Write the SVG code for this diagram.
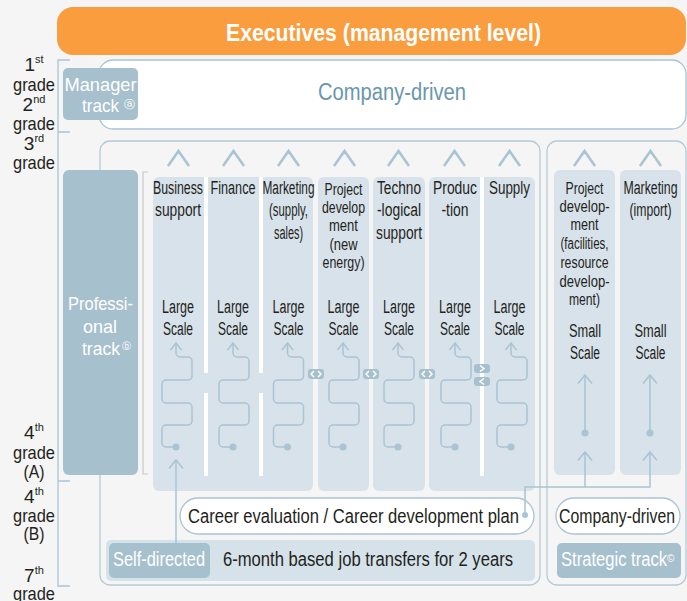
<svg xmlns="http://www.w3.org/2000/svg" width="687" height="601" viewBox="0 0 687 601">
<defs>
<style>
.t{font-family:"Liberation Sans",Arial,sans-serif;fill:#231f20;text-anchor:middle}
.s{text-anchor:start}
.w{fill:#fff}
.c18{font-size:18px}
.c16{font-size:16px}
.g{font-size:19px}
.b20{font-size:20px}
.ln{fill:none;stroke:#a9c4d3;stroke-width:1.5}
.chev{fill:none;stroke:#a9c4d3;stroke-width:2.6}
.box{fill:#a7c0ce}
.colbg{fill:#d8e2ea}
.brk{fill:none;stroke:#a9c4d3;stroke-width:1.3}
.ct{fill:none;stroke:#b4cad6;stroke-width:1.3}
.dot{fill:#a9c4d3}
.ic{fill:none;stroke:#fff;stroke-width:1.5}
</style>
<marker id="ah" viewBox="0 0 12 14" refX="9" refY="7" markerWidth="12" markerHeight="14" markerUnits="userSpaceOnUse" orient="auto">
<path d="M2,1.5 L9,7 L2,12.5" fill="none" stroke="#a9c4d3" stroke-width="1.5"/>
</marker>
<marker id="ah2" viewBox="0 0 12 18" refX="10" refY="9" markerWidth="12" markerHeight="18" markerUnits="userSpaceOnUse" orient="auto">
<path d="M1.5,2 L10,9 L1.5,16" fill="none" stroke="#a9c4d3" stroke-width="1.5"/>
</marker>
<g id="serp">
<path class="ln" marker-end="url(#ah)" d="M0,447 H-10 a4,4 0 0 1 -4,-4 V429 a4,4 0 0 1 4,-4 H12 a4,4 0 0 0 4,-4 V407 a4,4 0 0 0 -4,-4 H-10 a4,4 0 0 1 -4,-4 V384 a4,4 0 0 1 4,-4 H12 a4,4 0 0 0 4,-4 V361 a4,4 0 0 0 -4,-4 H4 a4,4 0 0 1 -4,-4 V343"/>
<circle class="dot" cx="0" cy="447" r="3.5"/>
</g>
</defs>

<rect width="687" height="601" fill="#f5f5f5"/>

<g id="executives">
<rect x="57" y="7" width="629" height="48" rx="16" fill="#f99d3e"/>
<text class="t w" x="383.5" y="41" font-size="24" font-weight="bold" textLength="315" lengthAdjust="spacingAndGlyphs">Executives (management level)</text>
</g>

<g id="grades">
<path class="brk" d="M70,60 H58 V586 H70 M58,132 H70 M58,481 H70"/>
<text class="t g" x="34" y="71">1<tspan font-size="11" dy="-8">st</tspan></text>
<text class="t g" x="34" y="91" textLength="42" lengthAdjust="spacingAndGlyphs">grade</text>
<text class="t g" x="34" y="111">2<tspan font-size="11" dy="-8">nd</tspan></text>
<text class="t g" x="34" y="130" textLength="42" lengthAdjust="spacingAndGlyphs">grade</text>
<text class="t g" x="34" y="150">3<tspan font-size="11" dy="-8">rd</tspan></text>
<text class="t g" x="34" y="169" textLength="42" lengthAdjust="spacingAndGlyphs">grade</text>
<text class="t g" x="34" y="439">4<tspan font-size="11" dy="-8">th</tspan></text>
<text class="t g" x="34" y="459" textLength="42" lengthAdjust="spacingAndGlyphs">grade</text>
<text class="t g" x="34" y="478" textLength="21" lengthAdjust="spacingAndGlyphs">(A)</text>
<text class="t g" x="34" y="503">4<tspan font-size="11" dy="-8">th</tspan></text>
<text class="t g" x="34" y="522" textLength="42" lengthAdjust="spacingAndGlyphs">grade</text>
<text class="t g" x="34" y="540" textLength="21" lengthAdjust="spacingAndGlyphs">(B)</text>
<text class="t g" x="34" y="582">7<tspan font-size="11" dy="-8">th</tspan></text>
<text class="t g" x="34" y="600" textLength="42" lengthAdjust="spacingAndGlyphs">grade</text>
</g>

<g id="company-driven-top">
<rect x="99" y="60" width="587" height="69" rx="14" fill="#fff" stroke="#a9c4d3" stroke-width="1.3"/>
<text class="t" x="392" y="100" font-size="23" fill="#6a97ac" style="fill:#6a97ac" textLength="148" lengthAdjust="spacingAndGlyphs">Company-driven</text>
</g>

<g id="manager-track">
<rect class="box" x="63" y="68" width="75" height="52" rx="5"/>
<text class="t w" x="100.5" y="91" font-size="19" textLength="72" lengthAdjust="spacingAndGlyphs">Manager</text>
<text class="t w s" x="82" y="112" font-size="19" textLength="37" lengthAdjust="spacingAndGlyphs">track</text>
<text class="t w s" x="123.5" y="108" font-size="11" font-family="DejaVu Sans,sans-serif">ⓐ</text>
</g>

<g id="professional-container">
<rect class="ct" x="100" y="141" width="440" height="444" rx="10"/>
</g>
<g id="strategic-container">
<rect class="ct" x="547" y="141" width="139" height="444" rx="10"/>
</g>

<g id="professional-track">
<rect class="box" x="63" y="170" width="75" height="305" rx="6"/>
<text class="t w" x="100.5" y="310" font-size="19" textLength="65" lengthAdjust="spacingAndGlyphs">Professi-</text>
<text class="t w" x="100" y="333" font-size="19" textLength="34" lengthAdjust="spacingAndGlyphs">onal</text>
<text class="t w s" x="82" y="355" font-size="19" textLength="38" lengthAdjust="spacingAndGlyphs">track</text>
<text class="t w s" x="121.5" y="349" font-size="9" font-family="DejaVu Sans,sans-serif">ⓑ</text>
<path d="M148,172 H143 V474 H148" fill="none" stroke="#c8c8c8" stroke-width="1.2"/>
</g>

<g id="col-block-a">
<rect class="colbg" x="153" y="177" width="160" height="314" rx="6"/>
<rect fill="#fff" x="204" y="177" width="4" height="196"/>
<rect fill="#fff" x="204" y="393" width="4" height="83"/>
<rect fill="#fff" x="259" y="177" width="4" height="196"/>
<rect fill="#fff" x="259" y="393" width="4" height="83"/>
</g>
<g id="col-block-b"><rect class="colbg" x="318" y="177" width="51" height="314" rx="6"/></g>
<g id="col-block-c"><rect class="colbg" x="373" y="177" width="52" height="314" rx="6"/></g>
<g id="col-block-d">
<rect class="colbg" x="429" y="177" width="106" height="314" rx="6"/>
<rect fill="#fff" x="480" y="177" width="4" height="299"/>
</g>

<g id="business-support">
<text class="t c18" x="178" y="194" textLength="50" lengthAdjust="spacingAndGlyphs">Business</text>
<text class="t c18" x="178" y="216" textLength="46" lengthAdjust="spacingAndGlyphs">support</text>
<text class="t c18" x="178" y="313" textLength="32" lengthAdjust="spacingAndGlyphs">Large</text>
<text class="t c18" x="178" y="335" textLength="30" lengthAdjust="spacingAndGlyphs">Scale</text>
</g>
<g id="finance">
<text class="t c18" x="233" y="194" textLength="45" lengthAdjust="spacingAndGlyphs">Finance</text>
<text class="t c18" x="233" y="313" textLength="32" lengthAdjust="spacingAndGlyphs">Large</text>
<text class="t c18" x="233" y="335" textLength="30" lengthAdjust="spacingAndGlyphs">Scale</text>
</g>
<g id="marketing-supply">
<text class="t c18" x="288.5" y="194" textLength="52" lengthAdjust="spacingAndGlyphs">Marketing</text>
<text class="t c18" x="288.5" y="216" textLength="39" lengthAdjust="spacingAndGlyphs">(supply,</text>
<text class="t c18" x="288.5" y="239" textLength="29" lengthAdjust="spacingAndGlyphs">sales)</text>
<text class="t c18" x="288.5" y="313" textLength="32" lengthAdjust="spacingAndGlyphs">Large</text>
<text class="t c18" x="288.5" y="335" textLength="30" lengthAdjust="spacingAndGlyphs">Scale</text>
</g>
<g id="project-new-energy">
<text class="t c16" x="343.5" y="195" textLength="38" lengthAdjust="spacingAndGlyphs">Project</text>
<text class="t c16" x="343.5" y="213" textLength="43" lengthAdjust="spacingAndGlyphs">develop</text>
<text class="t c16" x="343.5" y="231" textLength="29" lengthAdjust="spacingAndGlyphs">ment</text>
<text class="t c16" x="343.5" y="250" textLength="28" lengthAdjust="spacingAndGlyphs">(new</text>
<text class="t c16" x="343.5" y="268" textLength="42" lengthAdjust="spacingAndGlyphs">energy)</text>
<text class="t c18" x="343.5" y="313" textLength="32" lengthAdjust="spacingAndGlyphs">Large</text>
<text class="t c18" x="343.5" y="335" textLength="30" lengthAdjust="spacingAndGlyphs">Scale</text>
</g>
<g id="technological-support">
<text class="t c18" x="399" y="194" textLength="44" lengthAdjust="spacingAndGlyphs">Techno</text>
<text class="t c18" x="399" y="216" textLength="44" lengthAdjust="spacingAndGlyphs">-logical</text>
<text class="t c18" x="399" y="239" textLength="46" lengthAdjust="spacingAndGlyphs">support</text>
<text class="t c18" x="399" y="313" textLength="32" lengthAdjust="spacingAndGlyphs">Large</text>
<text class="t c18" x="399" y="335" textLength="30" lengthAdjust="spacingAndGlyphs">Scale</text>
</g>
<g id="production">
<text class="t c18" x="455" y="194" textLength="44" lengthAdjust="spacingAndGlyphs">Produc</text>
<text class="t c18" x="455" y="216" textLength="27" lengthAdjust="spacingAndGlyphs">-tion</text>
<text class="t c18" x="455" y="313" textLength="32" lengthAdjust="spacingAndGlyphs">Large</text>
<text class="t c18" x="455" y="335" textLength="30" lengthAdjust="spacingAndGlyphs">Scale</text>
</g>
<g id="supply">
<text class="t c18" x="509.5" y="194" textLength="41" lengthAdjust="spacingAndGlyphs">Supply</text>
<text class="t c18" x="509.5" y="313" textLength="32" lengthAdjust="spacingAndGlyphs">Large</text>
<text class="t c18" x="509.5" y="335" textLength="30" lengthAdjust="spacingAndGlyphs">Scale</text>
</g>

<g id="project-facilities">
<rect class="colbg" x="554" y="170" width="61" height="305" rx="6"/>
<text class="t c16" x="584.5" y="194" textLength="38" lengthAdjust="spacingAndGlyphs">Project</text>
<text class="t c16" x="584.5" y="212" textLength="50" lengthAdjust="spacingAndGlyphs">develop-</text>
<text class="t c16" x="584.5" y="230" textLength="28" lengthAdjust="spacingAndGlyphs">ment</text>
<text class="t c16" x="584.5" y="249" textLength="48" lengthAdjust="spacingAndGlyphs">(facilities,</text>
<text class="t c16" x="584.5" y="268" textLength="48" lengthAdjust="spacingAndGlyphs">resource</text>
<text class="t c16" x="584.5" y="287" textLength="50" lengthAdjust="spacingAndGlyphs">develop-</text>
<text class="t c16" x="584.5" y="305" textLength="31" lengthAdjust="spacingAndGlyphs">ment)</text>
<text class="t c18" x="585" y="337" textLength="32" lengthAdjust="spacingAndGlyphs">Small</text>
<text class="t c18" x="585" y="359" textLength="30" lengthAdjust="spacingAndGlyphs">Scale</text>
</g>
<g id="marketing-import">
<rect class="colbg" x="620" y="170" width="61" height="305" rx="6"/>
<text class="t c18" x="650.5" y="194" textLength="54" lengthAdjust="spacingAndGlyphs">Marketing</text>
<text class="t c18" x="650.5" y="216" textLength="42" lengthAdjust="spacingAndGlyphs">(import)</text>
<text class="t c18" x="650.5" y="337" textLength="32" lengthAdjust="spacingAndGlyphs">Small</text>
<text class="t c18" x="650.5" y="359" textLength="30" lengthAdjust="spacingAndGlyphs">Scale</text>
</g>

<g id="transfer-icons">
<rect class="box" x="308" y="369" width="16" height="10" rx="3"/>
<path class="ic" d="M314,371 L311,374 L314,377 M318,371 L321,374 L318,377"/>
<rect class="box" x="363" y="369" width="16" height="10" rx="3"/>
<path class="ic" d="M369,371 L366,374 L369,377 M373,371 L376,374 L373,377"/>
<rect class="box" x="419" y="369" width="16" height="10" rx="3"/>
<path class="ic" d="M425,371 L422,374 L425,377 M429,371 L432,374 L429,377"/>
<rect class="box" x="474" y="364" width="16" height="9" rx="3"/>
<path class="ic" d="M480,365.5 L484,368.5 L480,371.5"/>
<rect class="box" x="474" y="377" width="16" height="9" rx="3"/>
<path class="ic" d="M484,378.5 L480,381.5 L484,384.5"/>
</g>

<g id="career-evaluation">
<rect x="180" y="498" width="354" height="36" rx="18" fill="#fff" stroke="#a9c4d3" stroke-width="1.3"/>
<text class="t s b20" x="188" y="523" textLength="331" lengthAdjust="spacingAndGlyphs">Career evaluation / Career development plan</text>
</g>
<g id="company-driven-bottom">
<rect x="556" y="498" width="124" height="36" rx="18" fill="#fff" stroke="#a9c4d3" stroke-width="1.3"/>
<text class="t b20" x="617" y="523" textLength="116" lengthAdjust="spacingAndGlyphs">Company-driven</text>
</g>
<g id="job-transfers">
<rect x="106" y="540" width="429" height="41" rx="5" fill="#d5e2ea"/>
<text class="t s b20" x="223" y="566" textLength="290" lengthAdjust="spacingAndGlyphs">6-month based job transfers for 2 years</text>
</g>
<g id="self-directed">
<rect class="box" x="109" y="543" width="101" height="35" rx="5"/>
<text class="t w b20" x="159" y="566" textLength="92" lengthAdjust="spacingAndGlyphs">Self-directed</text>
</g>
<g id="strategic-track">
<rect class="box" x="557" y="543" width="124" height="35" rx="5"/>
<text class="t w s b20" x="561" y="566" textLength="106" lengthAdjust="spacingAndGlyphs">Strategic track</text>
<text class="t w s" x="667" y="562" font-size="10" font-family="DejaVu Sans,sans-serif">©</text>
</g>

<g id="connectors">
<path class="chev" d="M168,166 L178.5,151 L189,166 M223,166 L233.5,151 L244,166 M278,166 L288.5,151 L299,166 M334,166 L344.5,151 L355,166 M388,166 L398.5,151 L409,166 M444,166 L454.5,151 L465,166 M499,166 L509.5,151 L520,166 M574,166 L584.5,151 L595,166 M640,166 L650.5,151 L661,166"/>
<use href="#serp" x="176"/>
<use href="#serp" x="233"/>
<use href="#serp" x="287.5"/>
<use href="#serp" x="343"/>
<use href="#serp" x="398"/>
<use href="#serp" x="455"/>
<use href="#serp" x="511"/>
<path class="ln" marker-end="url(#ah2)" d="M176,543 V460"/>
<path class="ln" marker-end="url(#ah2)" d="M585,433 V375"/>
<circle class="dot" cx="585" cy="433" r="3.5"/>
<path class="ln" marker-end="url(#ah2)" d="M650,433 V375"/>
<circle class="dot" cx="650" cy="433" r="3.5"/>
<path class="ln" marker-end="url(#ah2)" d="M525,515 V487 H650 V452"/>
<path class="ln" marker-end="url(#ah2)" d="M585,487 V452"/>
<circle class="dot" cx="525" cy="515" r="3"/>
</g>
</svg>
